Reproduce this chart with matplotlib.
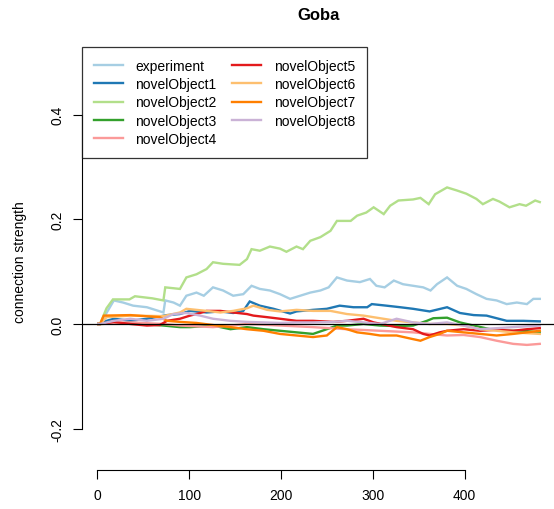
import matplotlib
matplotlib.use("Agg")
import matplotlib.pyplot as plt

plt.rcParams["font.family"] = ["Liberation Sans", "DejaVu Sans"]

# values (trial index vs connection strength)
experiment_x = [1, 3, 18, 28, 39, 54, 72, 74, 83, 90, 97, 108, 116, 126, 137, 148, 159, 168, 177,
                188, 199, 210, 221, 232, 243, 252, 261, 272, 286, 297, 304, 313, 323, 333, 344, 355,
                363, 370, 381, 392, 402, 413, 424, 435, 446, 457, 468, 475, 482]
experiment_y = [0, 0, .045, .041, .035, .032, .022, .045, .041, .035, .054, .060, .054, .070, .064,
                .054, .057, .073, .067, .064, .057, .048, .054, .060, .064, .070, .089, .083, .080,
                .086, .073, .070, .083, .076, .073, .070, .064, .076, .089, .073, .067, .057, .048,
                .045, .038, .041, .038, .048, .048]

obj1_x = [1, 3, 10, 18, 36, 54, 76, 90, 101, 119, 134, 148, 159, 166, 177, 192, 210, 217, 235, 250,
          264, 279, 294, 299, 315, 330, 344, 362, 381, 395, 410, 424, 446, 464, 482]
obj1_y = [0, 0, .006, .010, .006, .010, .017, .019, .025, .022, .024, .021, .025, .043, .035, .029,
          .020, .024, .027, .029, .035, .032, .032, .038, .035, .032, .029, .024, .032, .021, .017,
          .016, .006, .006, .005]

obj2_x = [1, 3, 10, 17, 35, 41, 60, 72, 74, 90, 97, 108, 119, 126, 137, 155, 163, 168, 177, 188,
          199, 206, 217, 224, 232, 243, 254, 261, 276, 283, 293, 301, 312, 319, 328, 344, 352, 361,
          368, 381, 392, 402, 413, 420, 431, 438, 449, 460, 467, 477, 482]
obj2_y = [0, 0, .030, .047, .047, .053, .049, .045, .070, .067, .089, .095, .105, .118, .115, .113,
          .124, .143, .140, .148, .144, .138, .148, .143, .159, .166, .178, .197, .197, .207, .213,
          .223, .210, .226, .236, .238, .241, .229, .248, .261, .255, .249, .239, .229, .239, .234,
          .223, .229, .226, .236, .233]

obj3_x = [1, 3, 36, 72, 90, 101, 126, 145, 163, 181, 199, 217, 235, 250, 261, 272, 290, 308, 326,
          344, 359, 366, 381, 395, 410, 428, 446, 464, 482]
obj3_y = [0, 0, .002, -.003, -.006, -.006, -.003, -.010, -.006, -.010, -.013, -.016, -.019, -.010,
          -.003, -.003, 0, -.003, -.004, -.003, .006, .011, .012, .003, -.003, -.010, -.013, -.013,
          -.016]

obj4_x = [1, 3, 36, 72, 90, 126, 145, 163, 199, 235, 272, 308, 344, 362, 381, 399, 417, 435, 453,
          468, 482]
obj4_y = [0, 0, .003, 0, -.003, -.006, -.003, 0, -.003, -.006, -.010, -.013, -.016, -.019, -.022,
          -.021, -.025, -.032, -.038, -.040, -.038]

obj5_x = [1, 3, 18, 36, 54, 68, 76, 90, 101, 112, 119, 134, 148, 163, 170, 185, 199, 217, 235, 257,
          272, 290, 301, 315, 326, 344, 355, 362, 373, 381, 399, 417, 435, 453, 468, 482]
obj5_y = [0, 0, .004, 0, -.003, -.002, .006, .010, .016, .021, .025, .025, .022, .019, .016, .013,
          .010, .006, .006, .004, .006, .010, .003, -.002, -.006, -.010, -.019, -.022, -.016, -.013,
          -.010, -.013, -.011, -.013, -.010, -.008]

obj6_x = [1, 3, 10, 36, 72, 90, 97, 119, 134, 148, 163, 170, 185, 199, 217, 235, 254, 272, 290,
          308, 326, 344, 362, 381, 399, 417, 435, 453, 482]
obj6_y = [0, 0, .013, .016, .015, .022, .029, .025, .022, .025, .030, .035, .027, .024, .027, .025,
          .025, .019, .016, .011, .006, .003, 0, 0, -.003, -.010, -.013, -.016, -.019]

obj7_x = [1, 3, 7, 36, 68, 76, 90, 108, 126, 145, 163, 181, 199, 217, 235, 250, 261, 272, 283, 297,
          308, 326, 344, 352, 362, 373, 381, 399, 417, 435, 453, 468, 482]
obj7_y = [0, 0, .016, .017, .013, .006, .004, .002, -.002, -.006, -.010, -.013, -.019, -.022, -.025,
          -.022, -.006, -.010, -.016, -.019, -.022, -.022, -.029, -.032, -.025, -.019, -.013, -.016,
          -.019, -.022, -.019, -.016, -.013]

obj8_x = [1, 3, 18, 36, 54, 72, 83, 97, 112, 126, 145, 163, 181, 199, 217, 235, 257, 272, 290, 308,
          326, 344, 362, 381, 399, 417, 435, 453, 482]
obj8_y = [0, 0, .006, .010, .006, .010, .019, .021, .016, .010, .006, .004, .003, .002, .003, .003,
          .004, .006, .003, 0, .010, .003, 0, .003, -.003, -.010, -.008, -.006, -.003]

labels = ["experiment"] + [f"novelObject{i}" for i in range(1, 9)]
colors = ["#A6CEE3", "#1F78B4", "#B2DF8A", "#33A02C", "#FB9A99",
          "#E31A1C", "#FDBF6F", "#FF7F00", "#CAB2D6"]
series = [
    (experiment_x, experiment_y), (obj1_x, obj1_y), (obj2_x, obj2_y),
    (obj3_x, obj3_y), (obj4_x, obj4_y), (obj5_x, obj5_y),
    (obj6_x, obj6_y), (obj7_x, obj7_y), (obj8_x, obj8_y),
]

W, H = 554, 510
fig = plt.figure(figsize=(W / 100, H / 100), dpi=100)
ax = fig.add_axes([82 / W, 1 - 470.7 / H, (W - 82) / W, (470.7 - 48.3) / H])

for (xs, ys), col, lab in zip(series, colors, labels):
    ax.plot(xs, ys, color=col, linewidth=1.7, label=lab, solid_joinstyle="miter")

ax.axhline(0, color="black", linewidth=0.9)

ax.set_xlim(-16.7, 497.5)
ax.set_ylim(-0.2785, 0.5288)

for side in ("top", "right"):
    ax.spines[side].set_visible(False)
ax.spines["left"].set_bounds(-0.2, 0.4)
ax.spines["bottom"].set_bounds(0, 400)
for side in ("left", "bottom"):
    ax.spines[side].set_linewidth(0.8)

ax.set_xticks([0, 100, 200, 300, 400])
ax.set_yticks([-0.2, 0.0, 0.2, 0.4])
ax.set_yticklabels(["-0.2", "0.0", "0.2", "0.4"], rotation=90, va="center")
ax.tick_params(axis="both", length=6.5, width=0.8, labelsize=10, direction="out")
ax.tick_params(axis="y", pad=6)
ax.tick_params(axis="x", pad=7)

fig.text(20 / W, 1 - 262 / H, "connection strength", rotation=90,
         ha="center", va="center", fontsize=10)
fig.text(319 / W, 1 - 16 / H, "Goba", ha="center", va="center",
         fontsize=12, fontweight="bold")

leg = ax.legend(ncol=2, loc="upper left", bbox_to_anchor=(0, 1), fontsize=10,
                frameon=True, fancybox=False, handlelength=2.1, handletextpad=0.9,
                columnspacing=1.1, labelspacing=0.3, borderpad=0.85,
                borderaxespad=0)
leg.get_frame().set_edgecolor("black")
leg.get_frame().set_linewidth(0.9)
for line in leg.get_lines():
    line.set_linewidth(1.7)

fig.savefig("out.png", dpi=100)
